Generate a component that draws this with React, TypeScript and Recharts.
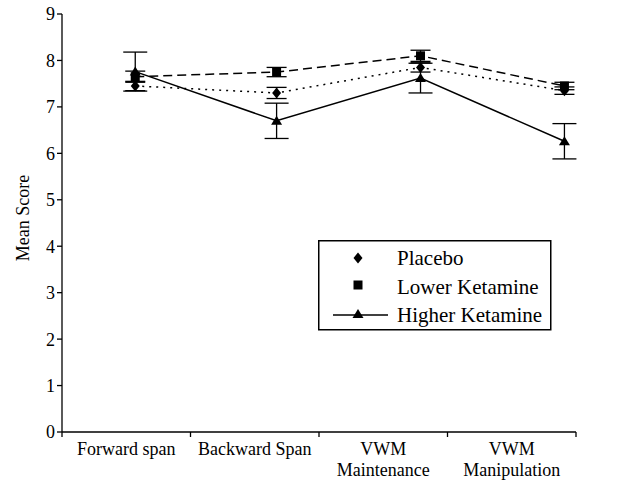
import { LineChart, Line, XAxis, YAxis, ErrorBar } from "recharts";

const categories = [["Forward span"], ["Backward Span"], ["VWM", "Maintenance"], ["VWM", "Manipulation"]];
const pointX = [0.57, 1.67, 2.79, 3.91];
const placebo = [7.45, 7.3, 7.85, 7.35];
const placeboErr = [0.1, 0.12, 0.1, 0.08];
const lowerKetamine = [7.65, 7.75, 8.1, 7.45];
const lowerErr = [0.12, 0.1, 0.12, 0.08];
const higherKetamine = [7.76, 6.7, 7.62, 6.26];
const higherErr = [0.42, 0.38, 0.32, 0.38];
const yTicks = [0, 1, 2, 3, 4, 5, 6, 7, 8, 9];
const seriesNames = ["Placebo", "Lower Ketamine", "Higher Ketamine"];

const data = categories.map((c, i) => ({
  x: pointX[i],
  placebo: placebo[i],
  placeboErr: placeboErr[i],
  lower: lowerKetamine[i],
  lowerErr: lowerErr[i],
  higher: higherKetamine[i],
  higherErr: higherErr[i],
}));

const xTicks: number[] = [];
for (let i = 0; i <= categories.length; i++) {
  xTicks.push(i);
  if (i < categories.length) xTicks.push(i + 0.5);
}

const FONT = "'Liberation Serif', serif";

const Diamond = (p: any) => {
  const { cx, cy } = p;
  if (cx == null || cy == null) return null;
  return <path d={`M${cx},${cy - 5.5}L${cx + 4.5},${cy}L${cx},${cy + 5.5}L${cx - 4.5},${cy}Z`} fill="#000" />;
};
const Square = (p: any) => {
  const { cx, cy } = p;
  if (cx == null || cy == null) return null;
  return <rect x={cx - 4.5} y={cy - 4.5} width={9} height={9} fill="#000" />;
};
const Triangle = (p: any) => {
  const { cx, cy } = p;
  if (cx == null || cy == null) return null;
  return <path d={`M${cx},${cy - 5}L${cx + 5.5},${cy + 4}L${cx - 5.5},${cy + 4}Z`} fill="#000" />;
};

const XTick = (props: any) => {
  const { x, y, payload } = props;
  const v = payload.value as number;
  if (Number.isInteger(v)) {
    return <line x1={x} x2={x} y1={y} y2={y + 5} stroke="#000" strokeWidth={1.3} />;
  }
  const lines = categories[Math.floor(v)];
  return (
    <text x={x} y={y} textAnchor="middle" style={{ fontFamily: FONT }} fontSize={18} fill="#000">
      {lines.map((l, i) => (
        <tspan key={i} x={x} dy={i === 0 ? 23 : 21}>
          {l}
        </tspan>
      ))}
    </text>
  );
};

const LegendBox = () => (
  <svg width={234} height={91} style={{ position: "absolute", left: 318, top: 240, fontFamily: FONT }}>
    <rect x={0.75} y={0.75} width={232} height={89} fill="#fff" stroke="#000" strokeWidth={1.5} />
    <Diamond cx={40} cy={18} />
    <Square cx={40} cy={45} />
    <line x1={15} x2={70} y1={75} y2={75} stroke="#000" strokeWidth={1.5} />
    <Triangle cx={40} cy={74} />
    {seriesNames.map((n, i) => (
      <text key={n} x={79} y={25 + i * 28.5} style={{ fontFamily: FONT, fontSize: 21 }} fill="#000">
        {n}
      </text>
    ))}
  </svg>
);

export default function App() {
  return (
    <div
      style={{
        position: "absolute",
        left: 0,
        top: 0,
        width: 643,
        height: 482,
        background: "#fff",
        fontFamily: FONT,
      }}
    >
      <LineChart width={643} height={482} data={data} margin={{ top: 14, right: 67, bottom: 0, left: 0 }}>
        <XAxis
          dataKey="x"
          type="number"
          domain={[0, categories.length]}
          ticks={xTicks}
          interval={0}
          tickLine={false}
          tickSize={0}
          tickMargin={0}
          height={50}
          axisLine={{ stroke: "#000", strokeWidth: 1.3 }}
          tick={<XTick />}
        />
        <YAxis
          domain={[0, 9]}
          ticks={yTicks}
          interval={0}
          width={62}
          tickSize={5}
          tickMargin={2}
          axisLine={{ stroke: "#000", strokeWidth: 1.3 }}
          tickLine={{ stroke: "#000", strokeWidth: 1.3 }}
          tick={{ fill: "#000", fontFamily: FONT, fontSize: 18 }}
          label={{
            content: () => (
              <text
                x={23}
                y={218}
                transform="rotate(-90 23 218)"
                textAnchor="middle"
                dominantBaseline="central"
                style={{ fontFamily: FONT }}
                fontSize={18}
                fill="#000"
              >
                Mean Score
              </text>
            ),
          }}
        />
        <Line
          dataKey="placebo"
          stroke="#000"
          strokeWidth={1.5}
          strokeDasharray="2 5"
          dot={<Diamond />}
          activeDot={false}
          isAnimationActive={false}
        >
          <ErrorBar dataKey="placeboErr" width={10} stroke="#000" strokeWidth={1.3} direction="y" />
        </Line>
        <Line
          dataKey="lower"
          stroke="#000"
          strokeWidth={1.5}
          strokeDasharray="9 5"
          dot={<Square />}
          activeDot={false}
          isAnimationActive={false}
        >
          <ErrorBar dataKey="lowerErr" width={10} stroke="#000" strokeWidth={1.3} direction="y" />
        </Line>
        <Line
          dataKey="higher"
          stroke="#000"
          strokeWidth={1.5}
          dot={<Triangle />}
          activeDot={false}
          isAnimationActive={false}
        >
          <ErrorBar dataKey="higherErr" width={12} stroke="#000" strokeWidth={1.3} direction="y" />
        </Line>
      </LineChart>
      <LegendBox />
    </div>
  );
}
